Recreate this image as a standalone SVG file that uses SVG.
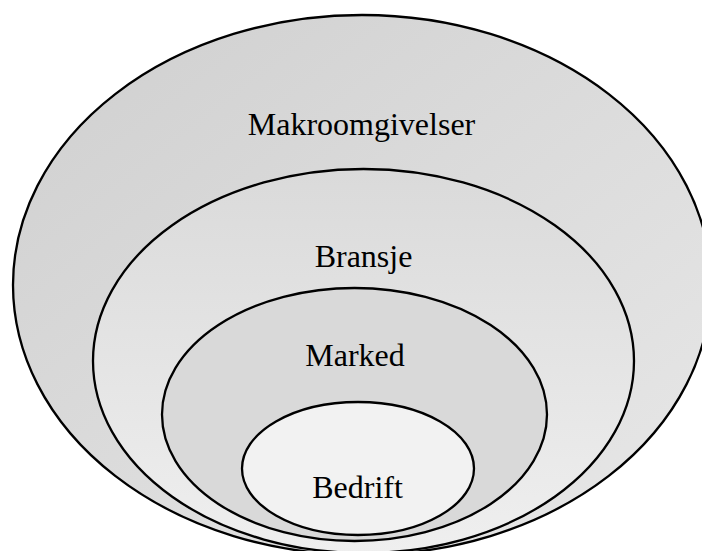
<svg xmlns="http://www.w3.org/2000/svg" width="702" height="551" viewBox="0 0 702 551">
<defs>
<linearGradient id="gOuter" x1="0" y1="0" x2="1" y2="1">
<stop offset="0" stop-color="#cfcfcf"/>
<stop offset="1" stop-color="#e8e8e8"/>
</linearGradient>
<linearGradient id="gBransje" x1="0" y1="0" x2="0" y2="1">
<stop offset="0" stop-color="#dadada"/>
<stop offset="1" stop-color="#efefef"/>
</linearGradient>
</defs>
<style>
.ring{stroke:#000;stroke-width:2.3}
.lbl{font-family:"Liberation Serif","Times New Roman",serif;font-size:32px;fill:#000;text-anchor:middle}
</style>
<rect width="702" height="551" fill="#fff"/>
<g id="makroomgivelser">
<ellipse class="ring" cx="362" cy="285" rx="349" ry="270" fill="url(#gOuter)"/>
<text class="lbl" x="361.5" y="135">Makroomgivelser</text>
</g>
<g id="bransje">
<ellipse class="ring" cx="363.5" cy="361" rx="270.5" ry="192" fill="url(#gBransje)"/>
<text class="lbl" x="363.5" y="267">Bransje</text>
</g>
<g id="marked">
<ellipse class="ring" cx="354.5" cy="414.5" rx="192.5" ry="126.5" fill="#d9d9d9"/>
<text class="lbl" x="355" y="366">Marked</text>
</g>
<g id="bedrift">
<ellipse class="ring" cx="358" cy="468.5" rx="116" ry="66.5" fill="#f2f2f2"/>
<text class="lbl" x="357.5" y="498">Bedrift</text>
</g>
<g id="connectors"/>
</svg>
